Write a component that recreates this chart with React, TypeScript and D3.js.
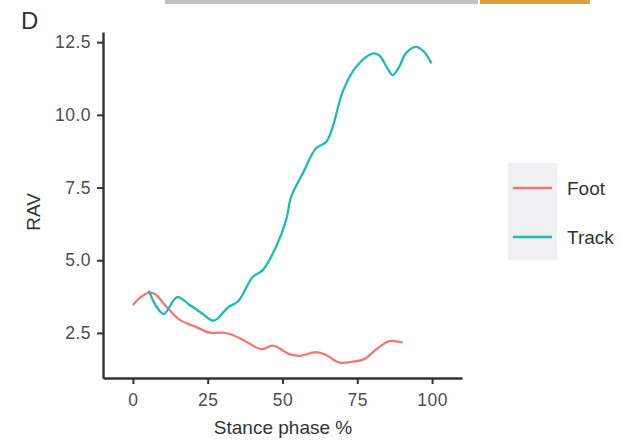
import React, { useEffect, useRef } from 'react';
import * as d3 from 'd3';

// stance phase % and RAV
const footX = [0, 2.5, 5.1, 7.3, 11.2, 15.7, 21.2, 25.7, 30.1, 33.4, 37.9, 42.9, 46.8, 52.3, 55.7, 61.2, 64.6, 69, 73.4, 77.3, 81.2, 85.7, 90.1];
const footY = [3.46, 3.72, 3.88, 3.84, 3.4, 2.95, 2.7, 2.51, 2.51, 2.43, 2.2, 1.94, 2.06, 1.77, 1.71, 1.84, 1.74, 1.48, 1.51, 1.6, 1.92, 2.22, 2.17];

const trackX = [5.3, 7.9, 10.3, 14.8, 19, 23.4, 26.6, 28.4, 31.8, 35.1, 40.1, 43.4, 47.9, 51.2, 52.9, 56.8, 61.2, 64.6, 66.8, 70.1, 74.6, 80.1, 82.3, 85.1, 86.8, 89, 91.2, 94.6, 97.3, 99.8];
const trackY = [3.95, 3.4, 3.15, 3.73, 3.46, 3.15, 2.92, 3.0, 3.38, 3.58, 4.43, 4.66, 5.47, 6.38, 7.18, 7.99, 8.85, 9.07, 9.59, 10.79, 11.65, 12.11, 12.05, 11.6, 11.37, 11.65, 12.11, 12.34, 12.17, 11.77];

const xTicks = [0, 25, 50, 75, 100];
const yTicks = [2.5, 5.0, 7.5, 10.0, 12.5];

const seriesNames = ['Foot', 'Track'];
const seriesColors = ['#F07870', '#1DBAB8'];

const width = 621;
const height = 444;
const font = '"Liberation Sans", Arial, sans-serif';

const App = () => {
  const svgRef = useRef<SVGSVGElement | null>(null);

  useEffect(() => {
    const svg = d3.select(svgRef.current);
    svg.selectAll('*').remove();

    const x = d3.scaleLinear().domain([-10, 110]).range([103, 462]);
    const y = d3.scaleLinear().domain([0.95, 12.85]).range([378, 32]);

    // cut-off strip from the panel above
    svg.append('rect').attr('x', 165).attr('y', 0).attr('width', 313).attr('height', 4)
      .attr('fill', '#9a9a9a').attr('opacity', 0.6);
    svg.append('rect').attr('x', 480).attr('y', 0).attr('width', 110).attr('height', 4)
      .attr('fill', '#e0a040');

    svg.append('text').attr('x', 21).attr('y', 29)
      .attr('font-family', font).attr('font-size', 24).attr('fill', '#333').text('D');

    const line = d3.line<[number, number]>()
      .x(d => x(d[0]))
      .y(d => y(d[1]))
      .curve(d3.curveCatmullRom);

    const series: [number, number][][] = [
      footX.map((v, i) => [v, footY[i]]),
      trackX.map((v, i) => [v, trackY[i]]),
    ];

    series.forEach((data, i) => {
      svg.append('path')
        .datum(data)
        .attr('fill', 'none')
        .attr('stroke', seriesColors[i])
        .attr('stroke-width', 2.3)
        .attr('d', line);
    });

    const yAxis = svg.append('g')
      .attr('transform', 'translate(103,0)')
      .call(d3.axisLeft(y).tickValues(yTicks).tickFormat(d3.format('.1f')).tickSize(6).tickPadding(6).tickSizeOuter(0));
    const xAxis = svg.append('g')
      .attr('transform', 'translate(0,378)')
      .call(d3.axisBottom(x).tickValues(xTicks).tickSize(6).tickSizeOuter(0));

    [xAxis, yAxis].forEach(g => {
      g.select('.domain').attr('stroke', '#333').attr('stroke-width', 2.4);
      g.selectAll('.tick line').attr('stroke', '#333').attr('stroke-width', 2);
      g.selectAll('.tick text').attr('fill', '#4d4d4d').attr('font-size', 17.5)
        .attr('font-family', font).attr('letter-spacing', 0.5);
    });
    xAxis.selectAll('.tick text').attr('y', 16);

    svg.append('text').attr('x', 283).attr('y', 434).attr('text-anchor', 'middle')
      .attr('font-family', font).attr('font-size', 19).attr('fill', '#333').text('Stance phase %');
    svg.append('text').attr('transform', 'translate(40,212) rotate(-90)').attr('text-anchor', 'middle')
      .attr('font-family', font).attr('font-size', 19).attr('fill', '#333').text('RAV');

    // legend
    svg.append('rect').attr('x', 508).attr('y', 163).attr('width', 49).attr('height', 97).attr('fill', '#f0f0f2');
    seriesNames.forEach((name, i) => {
      const ly = 188 + i * 49;
      svg.append('line').attr('x1', 513).attr('x2', 552).attr('y1', ly).attr('y2', ly)
        .attr('stroke', seriesColors[i]).attr('stroke-width', 2.3);
      svg.append('text').attr('x', 567).attr('y', ly + 7)
        .attr('font-family', font).attr('font-size', 19).attr('fill', '#333').text(name);
    });
  }, []);

  return (
    <svg ref={svgRef} width={width} height={height}
      style={{ position: 'absolute', left: 0, top: 0, background: '#fff' }} />
  );
};

export default App;
